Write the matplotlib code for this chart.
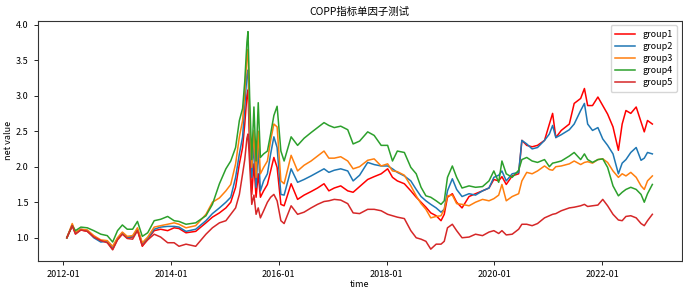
import matplotlib
matplotlib.use('Agg')
import matplotlib.pyplot as plt
import matplotlib.dates as mdates
import numpy as np
import pandas as pd

plt.rcParams['font.family'] = ['Noto Sans CJK SC', 'DejaVu Sans']
plt.rcParams['axes.unicode_minus'] = False

# sample dates (decimal years)
t = [2012.07, 2012.17, 2012.23, 2012.33, 2012.45, 2012.57, 2012.70, 2012.82, 2012.92,
     2013.01, 2013.10, 2013.19, 2013.29, 2013.38, 2013.47, 2013.57, 2013.69, 2013.81,
     2013.94, 2014.06, 2014.15, 2014.28, 2014.46, 2014.65, 2014.77, 2014.90, 2015.02,
     2015.11, 2015.20, 2015.27, 2015.33, 2015.37, 2015.41, 2015.43, 2015.46, 2015.50,
     2015.54, 2015.58, 2015.62, 2015.66, 2015.72, 2015.79, 2015.85, 2015.91, 2015.97,
     2016.04, 2016.10, 2016.23, 2016.35, 2016.47, 2016.60, 2016.72, 2016.84, 2016.93,
     2017.03, 2017.15, 2017.28, 2017.38, 2017.50, 2017.65, 2017.77, 2017.90, 2018.02,
     2018.11, 2018.20, 2018.33, 2018.45, 2018.55, 2018.64, 2018.73, 2018.82, 2018.92,
     2019.01, 2019.07, 2019.13, 2019.22, 2019.30, 2019.40, 2019.53, 2019.65, 2019.78,
     2019.90, 2019.99, 2020.08, 2020.14, 2020.22, 2020.33, 2020.45, 2020.51, 2020.60,
     2020.70, 2020.80, 2020.93, 2021.02, 2021.08, 2021.14, 2021.24, 2021.39, 2021.48,
     2021.60, 2021.67, 2021.73, 2021.82, 2021.92, 2022.01, 2022.10, 2022.20, 2022.30,
     2022.37, 2022.44, 2022.53, 2022.63, 2022.72, 2022.78, 2022.84, 2022.93]

group1 = [1.00, 1.17, 1.06, 1.11, 1.09, 1.01, 0.96, 0.94, 0.84,
          0.98, 1.06, 1.00, 1.01, 1.11, 0.88, 0.98, 1.10, 1.12,
          1.10, 1.14, 1.13, 1.07, 1.09, 1.21, 1.29, 1.35, 1.42,
          1.50, 1.71, 2.04, 2.27, 2.60, 3.00, 3.08, 2.27, 1.61,
          2.04, 1.57, 1.90, 1.57, 1.66, 1.75, 1.94, 2.13, 1.99,
          1.47, 1.45, 1.76, 1.54, 1.60, 1.65, 1.70, 1.76, 1.66,
          1.70, 1.73, 1.66, 1.64, 1.72, 1.82, 1.86, 1.90, 1.97,
          1.85, 1.80, 1.76, 1.66, 1.57, 1.50, 1.43, 1.35, 1.31,
          1.24, 1.33, 1.57, 1.62, 1.50, 1.42, 1.58, 1.62, 1.66,
          1.70, 1.82, 1.80, 1.86, 1.75, 1.87, 1.90, 2.37, 2.30,
          2.28, 2.30, 2.37, 2.60, 2.75, 2.41, 2.51, 2.60, 2.89,
          2.96, 3.10, 2.86, 2.86, 2.98, 2.86, 2.74, 2.56, 2.23,
          2.60, 2.79, 2.75, 2.84, 2.63, 2.49, 2.65, 2.60]

group2 = [1.00, 1.18, 1.07, 1.12, 1.10, 1.00, 0.94, 0.95, 0.87,
          0.99, 1.07, 1.00, 1.02, 1.12, 0.92, 0.99, 1.12, 1.15,
          1.16, 1.16, 1.15, 1.09, 1.12, 1.24, 1.34, 1.42, 1.50,
          1.57, 1.85, 2.18, 2.42, 2.85, 3.30, 3.36, 2.51, 1.85,
          2.32, 1.71, 2.27, 1.66, 1.80, 1.90, 2.18, 2.42, 2.27,
          1.61, 1.60, 1.97, 1.78, 1.82, 1.87, 1.92, 1.97, 1.92,
          1.95, 1.97, 1.94, 1.80, 1.88, 2.06, 2.03, 2.01, 2.01,
          1.97, 1.92, 1.87, 1.80, 1.68, 1.58, 1.52, 1.47, 1.42,
          1.36, 1.40, 1.66, 1.83, 1.68, 1.58, 1.62, 1.60, 1.66,
          1.70, 1.85, 1.88, 1.94, 1.80, 1.90, 1.92, 2.37, 2.32,
          2.25, 2.27, 2.37, 2.46, 2.58, 2.41, 2.45, 2.52, 2.60,
          2.79, 2.89, 2.60, 2.51, 2.55, 2.39, 2.30, 2.18, 1.90,
          2.05, 2.10, 2.20, 2.27, 2.09, 2.12, 2.20, 2.18]

group3 = [1.00, 1.20, 1.08, 1.12, 1.11, 1.03, 0.97, 0.96, 0.88,
          1.00, 1.08, 1.02, 1.03, 1.14, 0.93, 1.01, 1.15, 1.17,
          1.19, 1.21, 1.19, 1.14, 1.17, 1.33, 1.50, 1.56, 1.66,
          1.75, 2.04, 2.42, 2.65, 3.05, 3.55, 3.65, 2.65, 1.99,
          2.51, 1.85, 2.50, 1.90, 1.99, 2.08, 2.37, 2.60, 2.56,
          1.80, 1.76, 2.16, 1.94, 2.02, 2.08, 2.15, 2.22, 2.12,
          2.12, 2.14, 2.08, 1.97, 2.00, 2.09, 2.11, 2.01, 2.04,
          1.94, 1.93, 1.88, 1.73, 1.59, 1.48, 1.40, 1.28, 1.30,
          1.31, 1.40, 1.59, 1.60, 1.48, 1.47, 1.45, 1.50, 1.54,
          1.52, 1.55, 1.60, 1.75, 1.52, 1.58, 1.62, 1.80, 1.92,
          1.90, 1.94, 2.01, 1.96, 1.95, 2.00, 2.01, 2.04, 2.08,
          2.03, 2.06, 2.07, 2.05, 2.10, 2.11, 2.06, 1.94, 1.85,
          1.90, 1.87, 1.92, 1.85, 1.73, 1.68, 1.80, 1.87]

group4 = [1.00, 1.17, 1.10, 1.15, 1.14, 1.10, 1.05, 1.03, 0.94,
          1.10, 1.18, 1.12, 1.12, 1.23, 1.02, 1.07, 1.24, 1.26,
          1.30, 1.24, 1.23, 1.19, 1.21, 1.31, 1.47, 1.76, 1.97,
          2.08, 2.27, 2.65, 2.82, 3.20, 3.75, 3.90, 3.00, 2.10,
          2.84, 2.08, 2.90, 2.13, 2.18, 2.22, 2.46, 2.72, 2.85,
          2.22, 2.08, 2.42, 2.30, 2.40, 2.48, 2.55, 2.62, 2.58,
          2.55, 2.57, 2.52, 2.32, 2.36, 2.49, 2.44, 2.30, 2.30,
          2.08, 2.22, 2.20, 1.99, 1.90, 1.71, 1.59, 1.57, 1.52,
          1.47, 1.52, 1.85, 2.01, 1.85, 1.70, 1.73, 1.71, 1.72,
          1.80, 1.94, 1.78, 2.08, 1.90, 1.85, 1.95, 2.10, 2.13,
          2.08, 2.06, 2.10, 2.00, 2.05, 2.06, 2.08, 2.15, 2.20,
          2.10, 2.18, 2.10, 2.06, 2.10, 2.11, 1.99, 1.73, 1.59,
          1.64, 1.68, 1.71, 1.68, 1.61, 1.50, 1.62, 1.75]

group5 = [1.00, 1.17, 1.05, 1.11, 1.09, 1.01, 0.96, 0.93, 0.83,
          0.97, 1.05, 0.99, 0.98, 1.10, 0.89, 0.97, 1.05, 1.01,
          0.93, 0.93, 0.88, 0.91, 0.88, 1.05, 1.14, 1.21, 1.24,
          1.33, 1.42, 1.61, 1.90, 2.10, 2.40, 2.46, 2.05, 1.47,
          1.60, 1.33, 1.42, 1.28, 1.38, 1.50, 1.57, 1.61, 1.52,
          1.24, 1.20, 1.45, 1.33, 1.36, 1.42, 1.47, 1.51, 1.52,
          1.54, 1.53, 1.48, 1.35, 1.34, 1.40, 1.40, 1.38, 1.33,
          1.31, 1.29, 1.27, 1.10, 1.00, 0.98, 0.95, 0.84, 0.91,
          0.91, 0.95, 1.14, 1.19, 1.10, 1.00, 1.01, 1.05, 1.03,
          1.08, 1.10, 1.06, 1.10, 1.04, 1.05, 1.12, 1.19, 1.19,
          1.17, 1.20, 1.28, 1.31, 1.33, 1.34, 1.38, 1.42, 1.43,
          1.45, 1.47, 1.44, 1.45, 1.46, 1.54, 1.45, 1.33, 1.25,
          1.24, 1.30, 1.31, 1.28, 1.20, 1.17, 1.24, 1.33]

labels = ['group1', 'group2', 'group3', 'group4', 'group5']
colors = ['red', '#1f77b4', '#ff7f0e', '#2ca02c', '#d62728']

t = np.array(t)
dates = pd.to_datetime('2012-01-01') + pd.to_timedelta((t - 2012) * 365.25, unit='D')

fig = plt.figure(figsize=(6.83, 2.92), dpi=100)
ax = fig.add_axes([0.055, 0.107, 0.943, 0.822])

for vals, lab, c in zip([group1, group2, group3, group4, group5], labels, colors):
    ax.plot(dates, vals, color=c, lw=1.1, label=lab)

ax.xaxis.set_major_locator(mdates.YearLocator(2))
ax.xaxis.set_major_formatter(mdates.DateFormatter('%Y-%m'))
ax.tick_params(labelsize=6.5, length=3, width=0.6)
for s in ax.spines.values():
    s.set_linewidth(0.8)
    s.set_color('#333333')

ax.set_title('COPP指标单因子测试', fontsize=7.5, pad=4)
ax.set_xlabel('time', fontsize=6.5, labelpad=1)
ax.set_ylabel('net value', fontsize=6.5, labelpad=2)
ax.legend(loc='upper right', fontsize=6.5, handlelength=2.2, labelspacing=0.35,
          borderpad=0.5, framealpha=0.8)

fig.savefig('out.png', dpi=100)
